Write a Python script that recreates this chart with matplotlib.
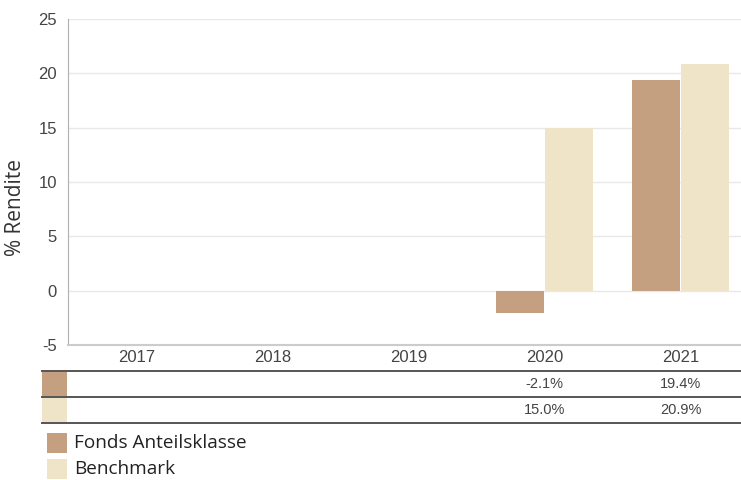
import matplotlib.pyplot as plt
from matplotlib.patches import Rectangle
from matplotlib.lines import Line2D
import numpy as np

years = ['2017', '2018', '2019', '2020', '2021']
fonds = [np.nan, np.nan, np.nan, -2.1, 19.4]
benchmark = [np.nan, np.nan, np.nan, 15.0, 20.9]
series_names = ['Fonds Anteilsklasse', 'Benchmark']
yticks = [-5, 0, 5, 10, 15, 20, 25]

C_FONDS = '#C4A080'
C_BENCH = '#F0E4C8'
TXT = '#444444'

W, H = 741, 480
fig = plt.figure(figsize=(W / 100, H / 100), dpi=100)


def fx(px):
    return px / W


def fy(py):
    return 1 - py / H


# main plot area: x 68..741, y 19..345
ax = fig.add_axes([fx(68), fy(345), fx(741) - fx(68), fy(19) - fy(345)])
x = np.arange(len(years))
bw = 0.35
ax.bar(x - bw / 2 - 0.004, fonds, bw, color=C_FONDS, zorder=3)
ax.bar(x + bw / 2 + 0.004, benchmark, bw, color=C_BENCH, zorder=3)

ax.set_xlim(-0.504, 4.445)
ax.set_ylim(-5, 25)
ax.set_yticks(yticks)
ax.set_yticklabels([str(t) for t in yticks], fontsize=12, color=TXT,
                   family='Liberation Sans')
ax.tick_params(axis='y', length=0, pad=8)
ax.set_xticks([])
ax.grid(True, axis='y', color='#e8e8e8', linewidth=1, zorder=0)
for s in ['top', 'right']:
    ax.spines[s].set_visible(False)
ax.spines['left'].set_color('#b0b0b0')
ax.spines['bottom'].set_color('#cccccc')
ax.spines['bottom'].set_linewidth(1.5)

fig.text(fx(16), fy(207), '% Rendite', rotation=90, ha='center', va='center',
         fontsize=15, color='#333333', family='Open Sans')

# category centres in figure coords
cx = [fig.transFigure.inverted().transform(ax.transData.transform((i, 0)))[0]
      for i in range(len(years))]

for i, yr in enumerate(years):
    fig.text(cx[i], fy(357), yr, ha='center', va='center', fontsize=12,
             color=TXT, family='Liberation Sans')

for yl in [371, 397, 423]:
    fig.add_artist(Line2D([fx(42), fx(741)], [fy(yl), fy(yl)],
                          color='#555555', linewidth=1.4))

rows = [fonds, benchmark]
colors = [C_FONDS, C_BENCH]
for r, (vals, c) in enumerate(zip(rows, colors)):
    top = 372 + r * 26
    fig.add_artist(Rectangle((fx(42), fy(top + 24)), fx(67) - fx(42),
                             fy(top) - fy(top + 24), color=c, lw=0))
    for i, v in enumerate(vals):
        if not np.isnan(v):
            fig.text(cx[i], fy(top + 12.5), f'{v:.1f}%', ha='center',
                     va='center', fontsize=10.5, color=TXT,
                     family='Liberation Sans')

# legend
for k, (name, c) in enumerate(zip(series_names, colors)):
    top = 433 + k * 26
    fig.add_artist(Rectangle((fx(47), fy(top + 20)), fx(67) - fx(47),
                             fy(top) - fy(top + 20), color=c, lw=0))
    fig.text(fx(74), fy(top + 10), name, ha='left', va='center',
             fontsize=13.7, color='#222222', family='Open Sans')

plt.savefig('out.png', dpi=100, facecolor='white')
